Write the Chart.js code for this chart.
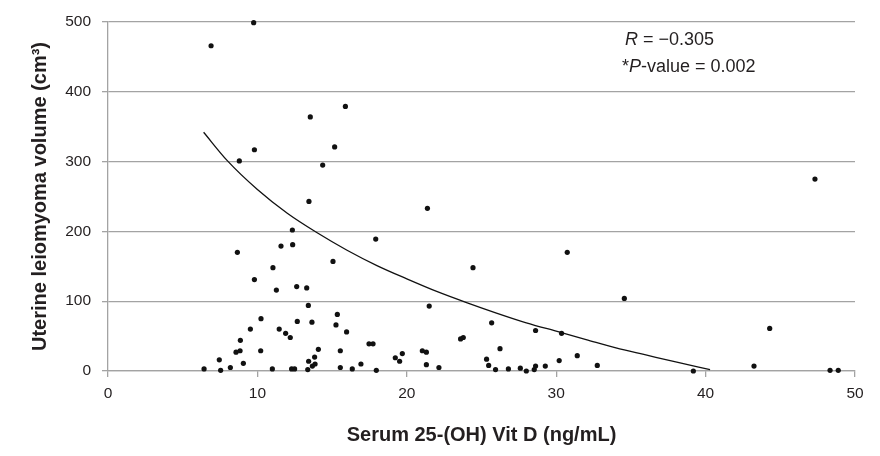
<!DOCTYPE html>
<html>
<head>
<meta charset="utf-8">
<script src="https://cdn.jsdelivr.net/npm/chart.js@4"></script>
<style>
  html, body { margin: 0; padding: 0; background: #ffffff; }
  #wrap { width: 880px; height: 456px; position: relative; }
</style>
</head>
<body>
<div id="wrap"><canvas id="c" width="880" height="456"></canvas></div>
<script>
// Serum 25-(OH) Vit D (ng/mL) per patient
const vitD = [
  6.43, 6.9, 7.45, 7.54, 8.19, 8.57, 8.66, 8.79, 8.84, 8.86,
  9.06, 9.53, 9.75, 9.8, 9.8, 10.22, 10.24, 11.0, 11.04, 11.27,
  11.46, 11.58, 11.89, 12.2, 12.29, 12.34, 12.36, 12.49, 12.63, 12.67,
  13.3, 13.37, 13.41, 13.43, 13.45, 13.54, 13.65, 13.68, 13.83, 13.86,
  14.08, 14.37, 15.06, 15.17, 15.26, 15.35, 15.55, 15.55, 15.89, 15.97,
  16.35, 16.93, 17.47, 17.74, 17.92, 17.96, 19.23, 19.52, 19.7, 21.04,
  21.31, 21.31, 21.38, 21.5, 22.15, 23.6, 23.78, 24.43, 25.34, 25.48,
  25.68, 25.94, 26.24, 26.8, 27.6, 28.0, 28.53, 28.62, 28.62, 29.27,
  30.2, 30.36, 30.74, 31.41, 32.75, 34.56, 39.18, 43.24, 44.29, 47.32,
  48.33, 48.88
];
// Uterine leiomyoma volume (cm3) per patient
const volume = [
  3, 466, 16, 1, 5, 27, 170, 301, 29, 44,
  11, 60, 499, 131, 317, 29, 75, 3, 148, 116,
  60, 179, 54, 48, 3, 202, 181, 3, 121, 71,
  119, 2, 94, 14, 243, 364, 70, 7, 20, 10,
  31, 295, 157, 321, 66, 81, 29, 5, 379, 56,
  3, 10, 39, 39, 189, 1, 19, 14, 25, 29,
  27, 9, 233, 93, 5, 46, 48, 148, 17, 8,
  69, 2, 32, 3, 4, 0, 2, 7, 58, 7,
  15, 54, 170, 22, 8, 104, 0, 7, 61, 275,
  1, 1
];
// Fitted trend curve
const trendX = [6.4, 8, 10, 12, 14, 16, 18, 20, 22, 24, 26, 28, 30, 32, 34, 36, 38, 40.3];
const trendY = [342, 301, 260, 226, 198, 173, 151, 132, 114, 98, 83, 69, 57, 45, 33, 23, 13, 2];

const xTicks = [0, 10, 20, 30, 40, 50];
const yTicks = [0, 100, 200, 300, 400, 500];
const statLines = [
  [{t: 'R', i: true}, {t: ' = \u22120.305', i: false}],
  [{t: '*', i: false}, {t: 'P', i: true}, {t: '-value = 0.002', i: false}]
];

const FONT = "'Liberation Sans', Arial, Helvetica, sans-serif";
const GRID = '#a3a3a3';
const TEXT = '#231f20';

const points = vitD.map((v, i) => ({x: v, y: volume[i]}));
const trend = trendX.map((v, i) => ({x: v, y: trendY[i]}));

const statsPlugin = {
  id: 'stats',
  afterDraw(chart) {
    const ctx = chart.ctx;
    const xs = chart.scales.x, ys = chart.scales.y;
    const x0 = xs.getPixelForValue(34.6);
    const rows = [ys.getPixelForValue(474), ys.getPixelForValue(435)];
    ctx.save();
    ctx.fillStyle = TEXT;
    ctx.textBaseline = 'middle';
    ctx.textAlign = 'left';
    statLines.forEach((line, r) => {
      let x = x0 - (r === 1 ? 3 : 0);
      line.forEach(seg => {
        ctx.font = (seg.i ? 'italic ' : '') + '18px ' + FONT;
        ctx.fillText(seg.t, x, rows[r]);
        x += ctx.measureText(seg.t).width;
      });
    });
    ctx.restore();
  }
};

new Chart(document.getElementById('c'), {
  type: 'scatter',
  data: {
    datasets: [
      {
        label: 'Trend',
        type: 'line',
        data: trend,
        borderColor: '#111111',
        borderWidth: 1.3,
        pointRadius: 0,
        fill: false,
        cubicInterpolationMode: 'monotone',
        order: 0
      },
      {
        label: 'Patients',
        data: points,
        backgroundColor: '#111111',
        borderColor: '#111111',
        pointRadius: 2.6,
        pointBorderWidth: 0,
        clip: false,
        order: 1
      }
    ]
  },
  options: {
    responsive: false,
    animation: false,
    devicePixelRatio: 1,
    layout: { padding: { left: 0, right: 25, top: 22, bottom: 0 } },
    plugins: {
      legend: { display: false },
      tooltip: { enabled: false }
    },
    scales: {
      x: {
        type: 'linear',
        min: 0, max: 50,
        afterBuildTicks: s => { s.ticks = xTicks.map(v => ({value: v})); },
        afterFit: s => { s.height = 85; },
        grid: {
          drawOnChartArea: false,
          drawTicks: true,
          tickLength: 6,
          color: GRID,
          lineWidth: 1.3
        },
        border: { color: GRID, width: 1.3 },
        ticks: {
          color: TEXT,
          font: { family: FONT, size: 15.5 },
          padding: 7,
          maxRotation: 0
        },
        title: {
          display: true,
          text: 'Serum 25-(OH) Vit D (ng/mL)',
          color: TEXT,
          font: { family: FONT, size: 20, weight: 'bold' },
          padding: { top: 0, bottom: 9 }
        }
      },
      y: {
        type: 'linear',
        min: 0, max: 500,
        afterBuildTicks: s => { s.ticks = yTicks.map(v => ({value: v})); },
        afterFit: s => { s.width = 108; },
        grid: {
          drawOnChartArea: true,
          drawTicks: true,
          tickLength: 6,
          color: GRID,
          lineWidth: 1.3
        },
        border: { color: GRID, width: 1.3 },
        ticks: {
          color: TEXT,
          font: { family: FONT, size: 15.5 },
          padding: 11
        },
        title: {
          display: true,
          text: 'Uterine leiomyoma volume (cm\u00B3)',
          color: TEXT,
          font: { family: FONT, size: 20, weight: 'bold' },
          padding: { top: 28, bottom: 0 }
        }
      }
    }
  },
  plugins: [statsPlugin]
});
</script>
</body>
</html>
